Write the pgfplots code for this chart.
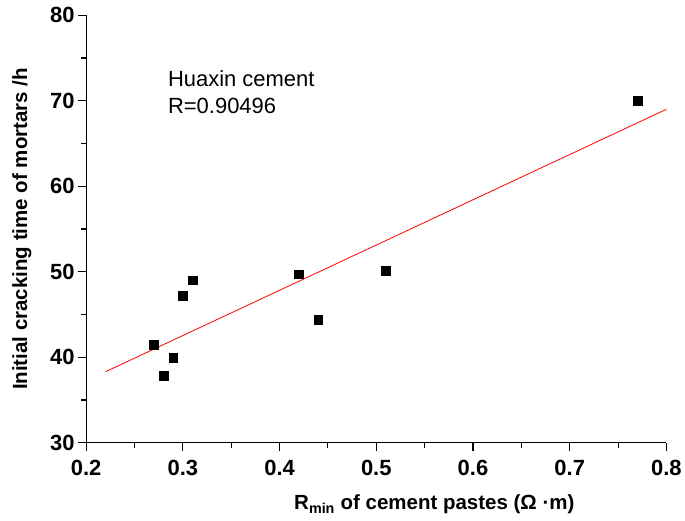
\documentclass[border=0pt]{standalone}
\usepackage{fontspec}
\setmainfont{Liberation Sans}
\usepackage{pgfplots}
\pgfplotsset{compat=1.18}

\begin{document}
\begin{tikzpicture}
\begin{axis}[
  scale only axis,
  width=581pt, height=428pt,
  xmin=0.2, xmax=0.8,
  ymin=30, ymax=80,
  axis x line*=bottom,
  axis y line*=left,
  axis line style={line width=1.3pt},
  xtick={0.2,0.3,...,0.8},
  ytick={30,40,...,80},
  minor x tick num=1,
  minor y tick num=1,
  tick align=outside,
  major tick length=8pt,
  minor tick length=5pt,
  tick style={line width=1.1pt, black},
  xticklabel style={/pgf/number format/fixed, /pgf/number format/precision=1, /pgf/number format/fixed zerofill, yshift=-6pt},
  /pgf/number format/assume math mode=true,
  ticklabel style={font=\fontsize{22}{26}\selectfont\bfseries},
  xlabel={R\textsubscript{min} of cement pastes (Ω ·m)},
  ylabel={Initial cracking time of mortars /h},
  label style={font=\fontsize{20.5}{24}\selectfont\bfseries},
  xlabel style={at={(axis description cs:0.6,-0.157)}, anchor=base},
  ylabel style={at={(axis description cs:-0.111,0.5)}, anchor=center},
  clip=false,
]
% measured points
\addplot[only marks, mark=square*, mark size=4.4pt, black] coordinates {
  (0.27,41.5) (0.28,37.8) (0.29,39.9) (0.30,47.2) (0.31,49.0)
  (0.42,49.7) (0.44,44.4) (0.51,50.1) (0.77,70.0)
};
% linear fit
\addplot[red, line width=0.8pt] coordinates {(0.22,38.3) (0.80,69.0)};

\node[anchor=base west, font=\fontsize{22}{26}\selectfont] at (axis cs:0.281,71.7) {Huaxin cement};
\node[anchor=base west, font=\fontsize{22}{26}\selectfont] at (axis cs:0.281,68.55) {R=0.90496};

% page frame as in the reference
\path (rel axis cs:-0.1485,-0.1815) rectangle (rel axis cs:1.0305,1.0357);
\end{axis}
\end{tikzpicture}
\end{document}
